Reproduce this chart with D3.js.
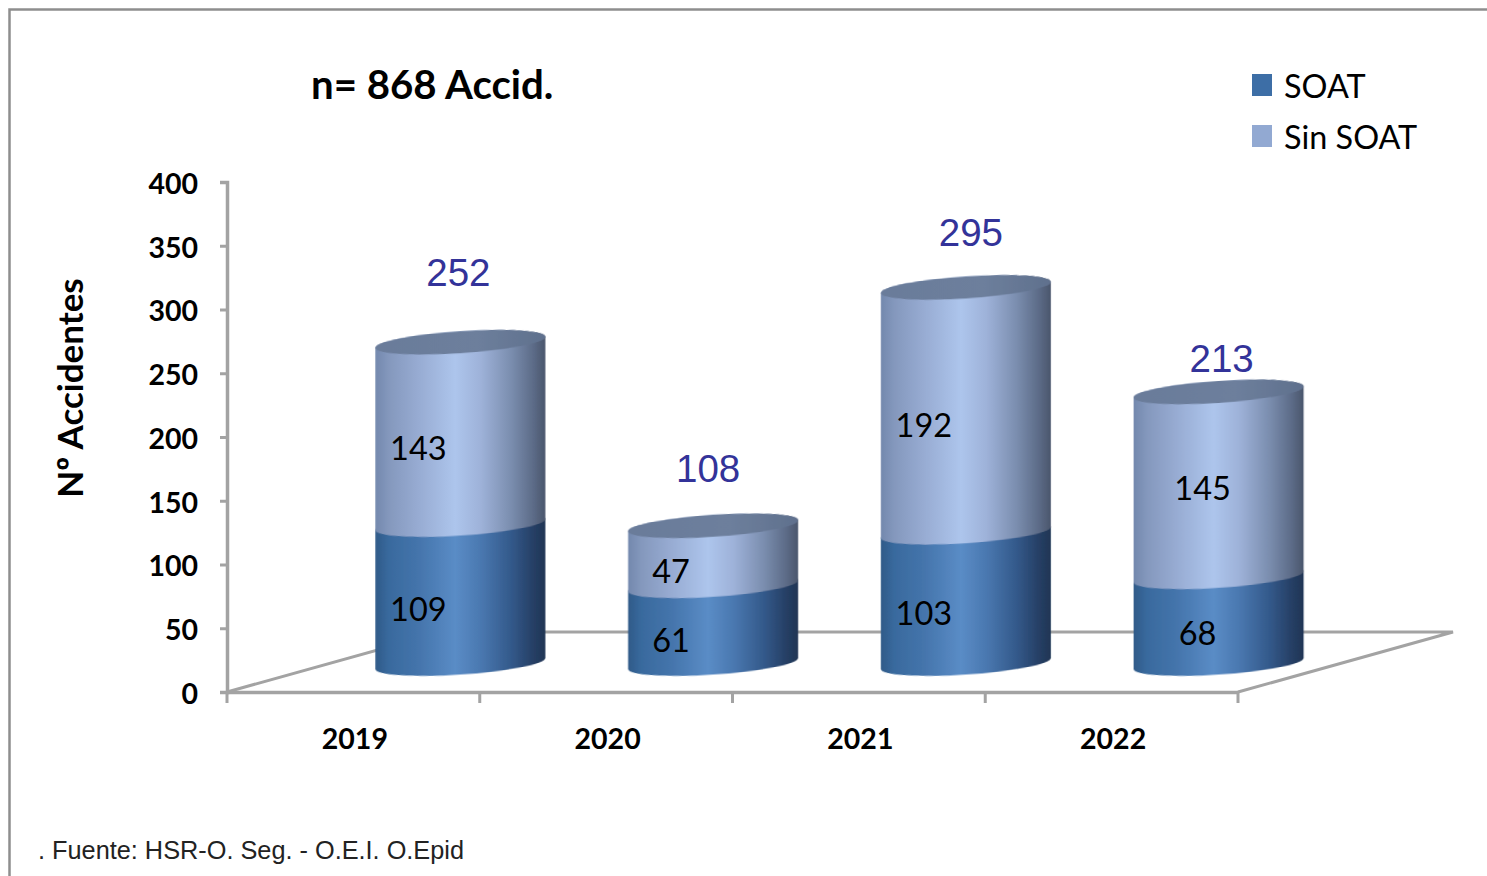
<!DOCTYPE html>
<html><head><meta charset="utf-8">
<script src="https://cdn.jsdelivr.net/npm/d3@7"></script>
<style>html,body{margin:0;padding:0;background:#fff;overflow:hidden}svg{display:block}</style>
</head><body><svg id="c" width="1487" height="876"></svg>
<script>
const years = ["2019","2020","2021","2022"];
const soat = [109,61,103,68];
const sinSoat = [143,47,192,145];
const totals = [252,108,295,213];
const yTicks = [0,50,100,150,200,250,300,350,400];
const seriesNames = ["SOAT","Sin SOAT"];
const titleText = "n= 868 Accid.";
const yTitle = "Nº Accidentes";
const sourceText = ". Fuente: HSR-O. Seg. - O.E.I. O.Epid";

const svg = d3.select("#c");
const W = 1487, H = 876;
const left = 227, right = 1238, top_ = 182, bottom = 692;
const depthX = 107, depthY = 28.5, backDX = 215, backDY = 60;
const rx = 85, ry = 11, shear = 0.065;
const axisCol = "#a3a3a3", sans = "Lato, sans-serif";

const x = d3.scaleBand().domain(years).range([left, right]);
const y = d3.scaleLinear().domain([0, 400]).range([bottom, top_]);

const defs = svg.append("defs");
function grad(id, stops){
  const g = defs.append("linearGradient").attr("id", id).attr("x1",0).attr("x2",1).attr("y1",0).attr("y2",0);
  stops.forEach(s => g.append("stop").attr("offset", s[0]).attr("stop-color", s[1]));
}
grad("gDark", [[0,"#2f5a88"],[.08,"#396a9e"],[.25,"#4474ab"],[.47,"#5a8cc6"],[.62,"#4a78b0"],[.8,"#33598a"],[.93,"#263f65"],[1,"#1f3554"]]);
grad("gLight", [[0,"#7388ad"],[.08,"#8498bd"],[.25,"#97abd2"],[.47,"#adc5ec"],[.62,"#9eb2d9"],[.8,"#7a8dae"],[.93,"#5c6b87"],[1,"#4a566c"]]);
grad("gCap", [[0,"#6a7c9a"],[.6,"#6d7f9c"],[1,"#5f708d"]]);
const blur = defs.append("filter").attr("id","soft").attr("x","-5%").attr("y","-5%").attr("width","110%").attr("height","110%");
blur.append("feGaussianBlur").attr("stdDeviation",0.7);

// frame
svg.append("path").attr("d",`M${W+5},9.5H9.5V${H+5}`).attr("fill","none").attr("stroke","#8e8e8e").attr("stroke-width",2.5);

// floor
const floor = svg.append("g").attr("fill","none").attr("stroke",axisCol).attr("stroke-width",3);
floor.append("path").attr("d",`M${left},${bottom}L${left+backDX},${bottom-backDY}H${right+backDX}L${right},${bottom}`);

// y axis
const yAxis = d3.axisLeft(y).tickValues(yTicks).tickSize(7).tickPadding(22);
const gy = svg.append("g").attr("transform",`translate(${left},0)`).call(yAxis);
gy.select(".domain").attr("stroke",axisCol).attr("stroke-width",3.5);
gy.selectAll(".tick line").attr("stroke",axisCol).attr("stroke-width",3);
gy.selectAll(".tick text").attr("fill","#000").attr("font-family",sans).attr("font-weight",700).attr("font-size",28.5).attr("dy","0.4em");

// x axis
const xAxis = d3.axisBottom(x).tickSize(0).tickPadding(37);
const gx = svg.append("g").attr("transform",`translate(0,${bottom})`).call(xAxis);
gx.select(".domain").attr("stroke",axisCol).attr("stroke-width",3.5);
gx.selectAll(".tick text").attr("fill","#000").attr("font-family",sans).attr("font-weight",700).attr("font-size",28.5).attr("dx",1.5);
gx.selectAll("line.cat").data(d3.range(years.length+1)).join("line").attr("class","cat")
  .attr("x1",i=>left+i*x.step()).attr("x2",i=>left+i*x.step()).attr("y1",0).attr("y2",11)
  .attr("stroke",axisCol).attr("stroke-width",3);

// stacked cylinders
const rows = years.map((yr,i)=>({year:yr, SOAT:soat[i], "Sin SOAT":sinSoat[i]}));
const stacked = d3.stack().keys(seriesNames)(rows);
const fills = ["url(#gDark)","url(#gLight)"];
const labelNudge = [[[-42,14],[-42,15],[-42,15],[-21,12]],[[-42,14],[-42,15],[-42,15],[-16,3]]];
const totalNudge = [-70,-57,-55,-33];
const totalShift = [-2,-5,5,3];

const cx = yr => x(yr) + x.bandwidth()/2 + depthX;
const py = v => y(v) - depthY;

years.forEach((yr,i)=>{
  const c = cx(yr);
  const g = svg.append("g").attr("filter","url(#soft)")
    .attr("transform",`translate(${c},0) skewY(${-Math.atan(shear)*180/Math.PI}) translate(${-c},0)`);
  stacked.forEach((s,k)=>{
    const y0 = py(s[i][0]), y1 = py(s[i][1]);
    g.append("path").attr("fill",fills[k])
      .attr("d",`M${c-rx},${y1}V${y0}A${rx},${ry} 0 0 0 ${c+rx},${y0}V${y1}A${rx},${ry} 0 0 0 ${c-rx},${y1}Z`);
  });
  g.append("ellipse").attr("cx",c).attr("cy",py(totals[i])).attr("rx",rx).attr("ry",ry).attr("fill","url(#gCap)");
});

// segment labels
stacked.forEach((s,k)=>{
  svg.append("g").selectAll("text").data(s).join("text")
    .attr("x",(d,i)=>cx(years[i])+labelNudge[k][i][0])
    .attr("y",(d,i)=>py((d[0]+d[1])/2)+labelNudge[k][i][1])
    .attr("text-anchor","middle").attr("dominant-baseline","central")
    .attr("font-family",sans).attr("font-size",32.5).attr("fill","#000")
    .text((d,i)=>k===0?soat[i]:sinSoat[i]);
});

// totals
svg.append("g").selectAll("text").data(totals).join("text")
  .attr("x",(d,i)=>cx(years[i])+totalShift[i])
  .attr("y",(d,i)=>py(d)+totalNudge[i])
  .attr("text-anchor","middle").attr("dominant-baseline","central")
  .attr("font-family","'Liberation Sans', sans-serif").attr("font-size",38.5).attr("fill","#333399")
  .text(d=>d);

// title
svg.append("text").attr("x",311).attr("y",99).attr("font-family",sans).attr("font-weight",700).attr("font-size",40.2).attr("fill","#000").text(titleText);

// y title
svg.append("text").attr("transform","translate(83,388) rotate(-90)").attr("text-anchor","middle")
  .attr("font-family",sans).attr("font-weight",700).attr("font-size",35).attr("fill","#000").text(yTitle);

// legend
const lg = svg.append("g").selectAll("g").data(seriesNames).join("g")
  .attr("transform",(d,i)=>`translate(1252,${74+i*51})`);
lg.append("rect").attr("width",20).attr("height",22).attr("fill",(d,i)=>["#3d6ea6","#92a9d2"][i]);
lg.append("text").attr("x",32).attr("y",11).attr("dominant-baseline","central")
  .attr("font-family",sans).attr("font-size",32.4).attr("fill","#000").text(d=>d);

// source
svg.append("text").attr("x",38).attr("y",859).attr("font-family","'Liberation Sans', sans-serif").attr("font-size",25.3).attr("fill","#222").text(sourceText);
</script></body></html>
